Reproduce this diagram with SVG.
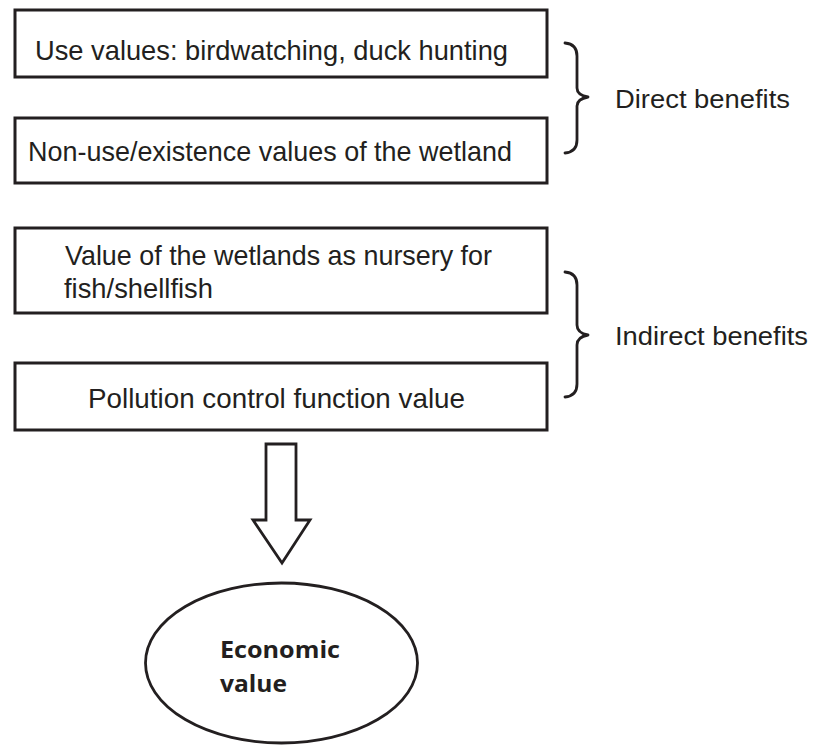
<svg xmlns="http://www.w3.org/2000/svg" width="814" height="746" viewBox="0 0 814 746">
<style>
.box{fill:#fff;stroke:#231f20;stroke-width:3}
.t{font-family:"Liberation Sans",Arial,sans-serif;font-size:28px;fill:#231f20}
.lbl{font-family:"Liberation Sans",Arial,sans-serif;font-size:25px;fill:#231f20}
.brace{fill:none;stroke:#231f20;stroke-width:2.8;stroke-linejoin:round;stroke-linecap:round}
.ev{font-family:"Open Sans","Liberation Sans",sans-serif;font-size:23px;font-weight:bold;fill:#231f20}
</style>
<rect width="814" height="746" fill="#fff"/>
<g id="use-values">
<rect class="box" x="15" y="10" width="532" height="67"/>
<text class="t" x="35" y="60" textLength="473" lengthAdjust="spacingAndGlyphs">Use values: birdwatching, duck hunting</text>
</g>
<g id="non-use-values">
<rect class="box" x="15" y="118" width="532" height="65"/>
<text class="t" x="28" y="161" textLength="484" lengthAdjust="spacingAndGlyphs">Non-use/existence values of the wetland</text>
</g>
<g id="nursery-value">
<rect class="box" x="15" y="228" width="532" height="85"/>
<text class="t" x="65" y="265" textLength="427" lengthAdjust="spacingAndGlyphs">Value of the wetlands as nursery for</text>
<text class="t" x="64" y="298" textLength="149" lengthAdjust="spacingAndGlyphs">fish/shellfish</text>
</g>
<g id="pollution-control">
<rect class="box" x="15" y="363" width="532" height="67"/>
<text class="t" x="88" y="408" textLength="377" lengthAdjust="spacingAndGlyphs">Pollution control function value</text>
</g>
<g id="direct-benefits">
<path class="brace" d="M565,43 Q577,44 577,56 L577,88 Q577,95 588,97 Q577,99 577,106 L577,140 Q577,152 565,153"/>
<text class="lbl" x="615" y="108" textLength="175" lengthAdjust="spacingAndGlyphs">Direct benefits</text>
</g>
<g id="indirect-benefits">
<path class="brace" d="M565,272 Q577,273 577,285 L577,325 Q577,333 588,335 Q577,337 577,345 L577,384 Q577,396 565,397"/>
<text class="lbl" x="615" y="345" textLength="193" lengthAdjust="spacingAndGlyphs">Indirect benefits</text>
</g>
<g id="connectors">
<path d="M266,444 L296,444 L296,520 L310,520 L282,563 L253,520 L266,520 Z" fill="#fff" stroke="#231f20" stroke-width="2.8" stroke-linejoin="miter"/>
</g>
<g id="economic-value">
<ellipse cx="281.5" cy="663" rx="136" ry="80" fill="#fff" stroke="#231f20" stroke-width="2.8"/>
<text class="ev" x="220" y="658" textLength="120" lengthAdjust="spacingAndGlyphs">Economic</text>
<text class="ev" x="220" y="692" textLength="67" lengthAdjust="spacingAndGlyphs">value</text>
</g>
</svg>
